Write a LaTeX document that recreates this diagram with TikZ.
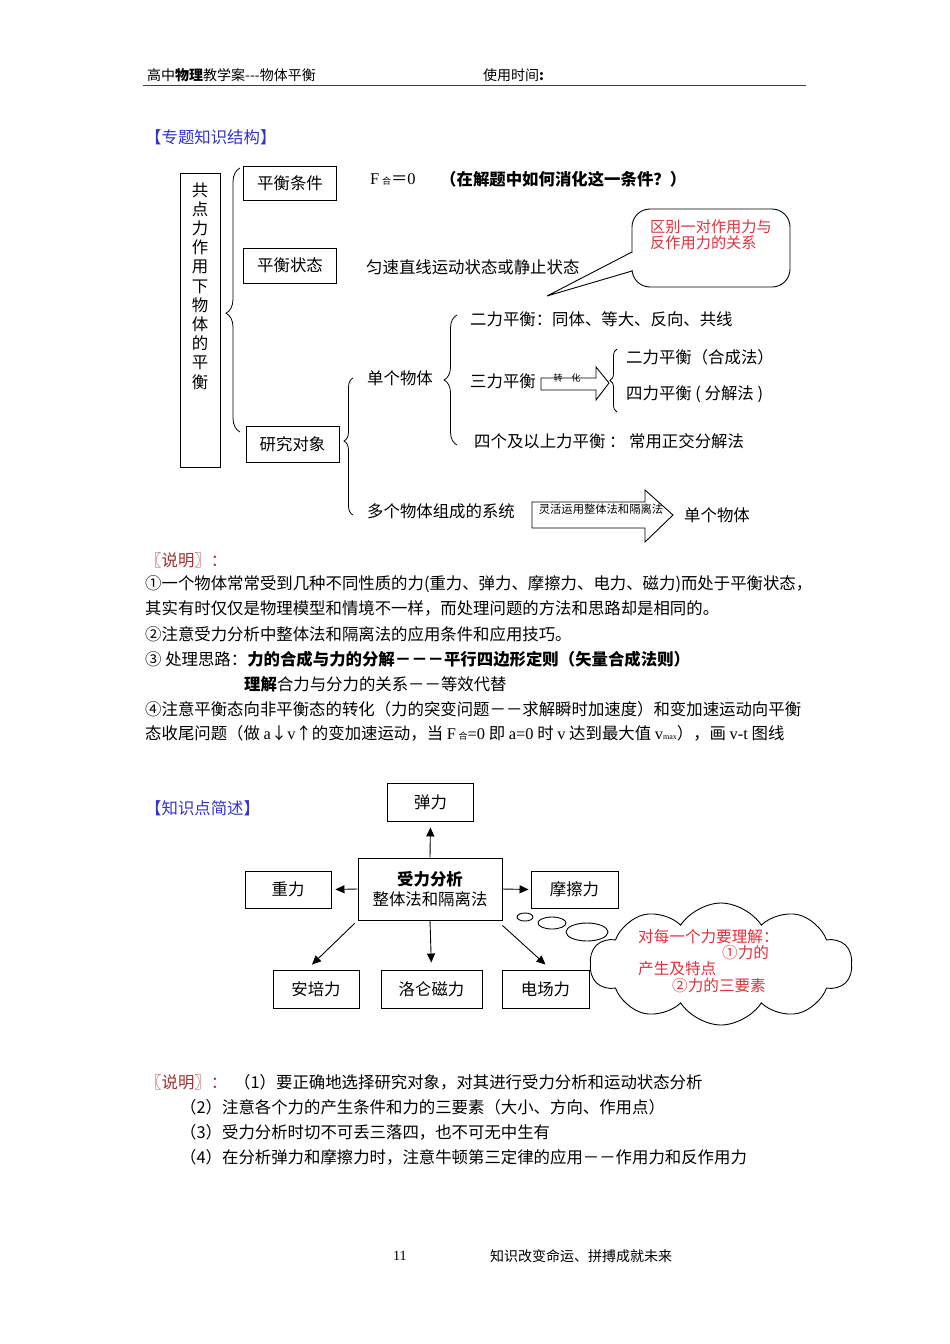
\documentclass[tikz,border=0pt]{standalone}
\usepackage{fontspec}
\setmainfont{Noto Sans CJK SC}
\newfontfamily\lat{Liberation Serif}
\usetikzlibrary{decorations.pathreplacing,shapes.symbols,arrows.meta}
\definecolor{tblue}{RGB}{51,51,204}
\definecolor{tred}{RGB}{160,50,50}
\definecolor{cred}{RGB}{225,50,60}
\newcommand{\bodyfont}{\fontsize{16.4}{19.2}\selectfont}
\newcommand{\smallfont}{\fontsize{14}{16}\selectfont}
\tikzset{
 txt/.style={anchor=west,inner sep=0pt,font=\bodyfont},
 sm/.style={anchor=west,inner sep=0pt,font=\smallfont},
 box/.style={draw,line width=0.9pt,inner sep=0pt,font=\bodyfont},
 brc/.style={decorate,line width=0.8pt},
 arr/.style={-{Triangle[length=9pt,width=8pt]},line width=0.9pt},
 blk/.style={draw,line width=0.9pt,fill=white},
}
\begin{document}
\begin{tikzpicture}[x=1pt,y=-1pt]
\useasboundingbox[fill=white] (0,0) rectangle (950,1344);
% header
\node[sm] (h1) at (147,75) {高中\textbf{物理}教学案-{}-{}-物体平衡};
\node[sm] (h2) at (483,75) {使用时间\textbf{:}};
\draw[line width=1.6pt,black!75] (143,85.5) -- (806,85.5);
% section title
\node[txt,text=tblue] (s1) at (145,137) {【专题知识结构】};
% top diagram
\node[draw,line width=0.9pt,minimum width=40,minimum height=294,inner sep=0pt] (main) at (200,320) {};
\node[font=\bodyfont,align=center,inner sep=0pt] (mtxt) at (200,286) {共\\点\\力\\作\\用\\下\\物\\体\\的\\平\\衡};
\draw[brc,decoration={brace,amplitude=14,aspect=0.45}] (240,432) -- (240,168);
\node[box,minimum width=93,minimum height=34] (c1) at (290,183) {平衡条件};
\node[box,minimum width=93,minimum height=35] (c2) at (290,265.5) {平衡状态};
\node[box,minimum width=93,minimum height=36] (c3) at (292.5,444) {研究对象};
\node[txt] (f0) at (370,179) {{\lat F}\,{\fontsize{9}{9}\selectfont 合}＝{\lat 0}};
\node[txt] (f1) at (440,179) {\textbf{（在解题中如何消化这一条件？）}};
\node[txt] (st) at (366,267) {匀速直线运动状态或静止状态};
% callout
\draw[line width=0.9pt,fill=white,rounded corners=18] (632,209) rectangle (790,287);
\fill[white] (630,253) rectangle (635,270);
\draw[line width=0.9pt] (632,252) -- (547,296) -- (632,271);
\node[sm,text=cred,align=left,font=\fontsize{15.2}{16.5}\selectfont] (co) at (650,235) {区别一对作用力与\\反作用力的关系};
% single body
\node[txt] (dg) at (367,378) {单个物体};
\draw[brc,decoration={brace,amplitude=9,aspect=0.54}] (353,515) -- (353,378);
\draw[brc,decoration={brace,amplitude=13,aspect=0.5}] (457,445) -- (457,315);
\node[txt] (t1) at (470,319) {二力平衡：同体、等大、反向、共线};
\node[txt] (t3) at (470,381) {三力平衡};
\draw[blk] (541,378) -- (596,378) -- (596,367) -- (609,383) -- (596,400) -- (596,390) -- (541,390) -- cycle;
\node[inner sep=0pt,font=\fontsize{9}{10}\selectfont] (zh) at (567,378) {转\quad 化};
\draw[brc,decoration={brace,amplitude=7,aspect=0.5}] (617,412) -- (617,349);
\node[txt] (t4) at (626,357) {二力平衡（合成法）};
\node[txt] (t5) at (626,394) {四力平衡 ( 分解法 )};
\node[txt] (t6) at (474,441) {四个及以上力平衡 ：\ 常用正交分解法};
\node[txt] (t7) at (367,511) {多个物体组成的系统};
\draw[blk] (532,502) -- (645,502) -- (645,490) -- (673,515) -- (645,542) -- (645,528) -- (532,528) -- cycle;
\node[inner sep=0pt,font=\fontsize{11.3}{12}\selectfont] (lh) at (601,509) {灵活运用整体法和隔离法};
\node[txt] (t8) at (684,515) {单个物体};
% explanation 1
\node[txt,text=tred] (e0) at (145,560) {〖说明〗：};
\node[txt] (e1) at (145,584) {①一个物体常常受到几种不同性质的力(重力、弹力、摩擦力、电力、磁力)而处于平衡状态，};
\node[txt] (e2) at (145,608) {其实有时仅仅是物理模型和情境不一样，而处理问题的方法和思路却是相同的。};
\node[txt] (e3) at (145,634) {②注意受力分析中整体法和隔离法的应用条件和应用技巧。};
\node[txt] (e4) at (145,659) {③ 处理思路：\textbf{力的合成与力的分解－－－平行四边形定则（矢量合成法则）}};
\node[txt] (e5) at (244,684) {\textbf{理解}合力与分力的关系－－等效代替};
\node[txt] (e6) at (145,709) {④注意平衡态向非平衡态的转化（力的突变问题－－求解瞬时加速度）和变加速运动向平衡};
\node[txt] (e7) at (145,733) {态收尾问题（做 {\lat a}↓{\lat v}↑的变加速运动，当 {\lat F}\,{\fontsize{9}{9}\selectfont 合}{\lat =0} 即 {\lat a=0} 时 {\lat v} 达到最大值 {\lat v}{\fontsize{8}{8}\selectfont\lat max}），画 {\lat v-t} 图线};
% bottom diagram
\node[txt,text=tblue] (s2) at (145,808) {【知识点简述】};
\node[box,minimum width=86,minimum height=38] (tan) at (430.5,802) {弹力};
\node[box,minimum width=144,minimum height=62,align=center] (core) at (430,889) {\textbf{受力分析}\\整体法和隔离法};
\node[box,minimum width=86,minimum height=37] (zhong) at (288,889.5) {重力};
\node[box,minimum width=87,minimum height=37] (mo) at (574.5,889.5) {摩擦力};
\node[box,minimum width=86,minimum height=38] (an) at (316,989) {安培力};
\node[box,minimum width=101,minimum height=38] (luo) at (431.5,989) {洛仑磁力};
\node[box,minimum width=87,minimum height=38] (dian) at (545.5,989) {电场力};
\draw[arr,shorten >=6pt] (core.north) -- (tan.south);
\draw[arr,shorten >=4pt] (core.west) -- (zhong.east);
\draw[arr,shorten >=2pt] (core.east) -- (mo.west);
\draw[arr,shorten >=7pt] (core.south) -- (luo.north);
\draw[arr] ([shift={(-3,3)}]core.south west) -- ([shift={(-4,-5)}]an.north);
\draw[arr] ([shift={(0,5)}]core.south east) -- ([shift={(0,-5)}]dian.north);
% cloud
\node[cloud,draw,line width=0.9pt,cloud puffs=10,cloud puff arc=115,aspect=2.1,minimum width=262,minimum height=122,inner sep=0pt] (cl) at (721,964) {};
\draw[line width=0.9pt] (525,917) ellipse [x radius=8pt,y radius=4pt];
\draw[line width=0.9pt] (552,923) ellipse [x radius=14pt,y radius=6pt];
\draw[line width=0.9pt] (587,932) ellipse [x radius=21pt,y radius=9pt];
\node[txt,text=cred,font=\fontsize{15.6}{17}\selectfont] (q1) at (638,937) {对每一个力要理解：};
\node[txt,text=cred,font=\fontsize{15.6}{17}\selectfont] (q2) at (722,953) {①力的};
\node[txt,text=cred,font=\fontsize{15.6}{17}\selectfont] (q3) at (638,969) {产生及特点};
\node[txt,text=cred,font=\fontsize{15.6}{17}\selectfont] (q4) at (672,986) {②力的三要素};
% explanation 2
\node[txt,text=tred] (b0) at (145,1082) {〖说明〗：};
\node[txt] (b1) at (234,1082) {（1）要正确地选择研究对象，对其进行受力分析和运动状态分析};
\node[txt] (b2) at (180,1107) {（2）注意各个力的产生条件和力的三要素（大小、方向、作用点）};
\node[txt] (b3) at (180,1132) {（3）受力分析时切不可丢三落四，也不可无中生有};
\node[txt] (b4) at (180,1157) {（4）在分析弹力和摩擦力时，注意牛顿第三定律的应用－－作用力和反作用力};
% footer
\node[sm,font=\lat\fontsize{14}{16}\selectfont] (p1) at (393,1256) {11};
\node[sm] (p2) at (490,1256) {知识改变命运、拼搏成就未来};
\end{tikzpicture}
\end{document}
